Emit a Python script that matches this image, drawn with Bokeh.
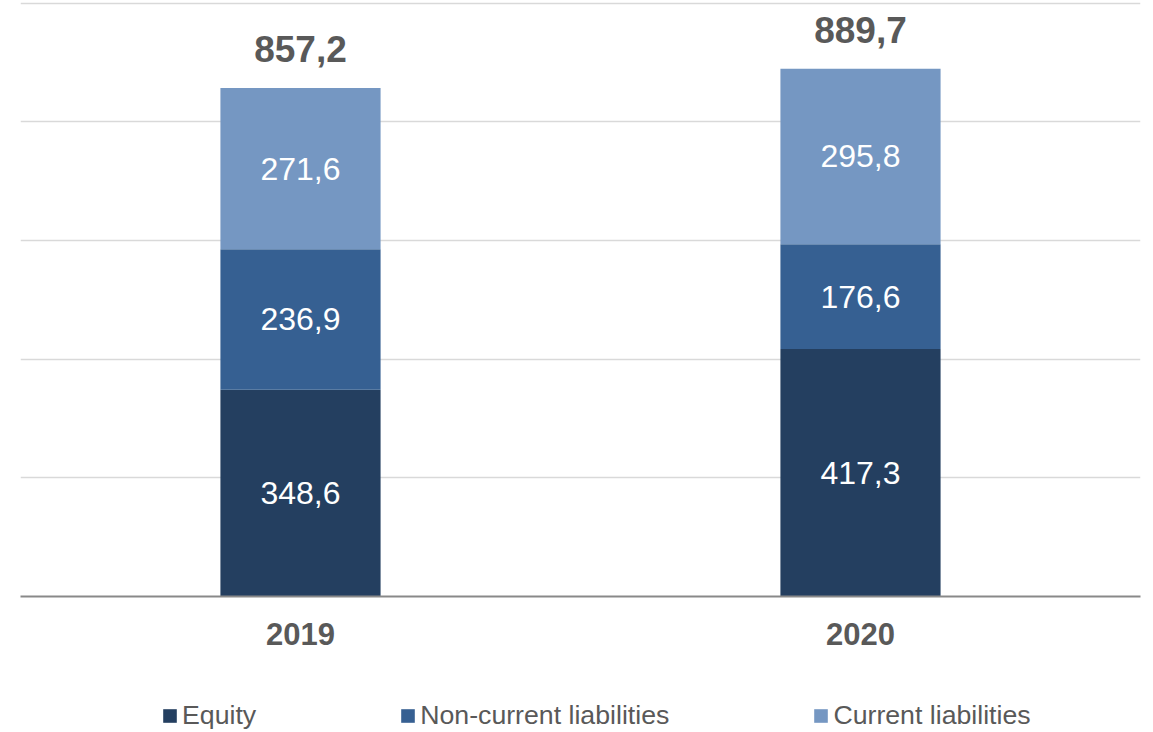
from bokeh.plotting import figure
from bokeh.models import ColumnDataSource, Legend, LegendItem, FactorRange, Range1d
from bokeh.layouts import column
from bokeh.core.properties import value
from bokeh.embed import file_html
from bokeh.resources import INLINE

years = ["2019", "2020"]
equity = [348.6, 417.3]
non_current = [236.9, 176.6]
current = [271.6, 295.8]
totals = [857.2, 889.7]
series_names = ["Equity", "Non-current liabilities", "Current liabilities"]
colors = ["#243F60", "#366092", "#7597C2"]

def fmt(v):
    return f"{v:.1f}".replace(".", ",")

p = figure(x_range=FactorRange(factors=years, range_padding=0), y_range=Range1d(0, 1003),
           width=1153, height=660, output_backend="svg", toolbar_location=None,
           min_border_left=20, min_border_right=13, min_border_top=1, min_border_bottom=64)
p.outline_line_color = None
p.background_fill_color = "white"

series = [equity, non_current, current]
bottoms = [0.0, 0.0]
for name, vals, col in zip(series_names, series, colors):
    tops = [b + v for b, v in zip(bottoms, vals)]
    mids = [(b + t) / 2 for b, t in zip(bottoms, tops)]
    src = ColumnDataSource(dict(x=years, bottom=bottoms, top=tops, mid=mids,
                                lab=[fmt(v) for v in vals]))
    p.vbar(x="x", bottom="bottom", top="top", width=0.286, source=src,
           fill_color=col, line_color=None)
    p.text(x="x", y="mid", text="lab", source=src, text_color="white",
           text_font=value("Liberation Sans"), text_font_size="32px",
           text_align="center", text_baseline="middle")
    bottoms = tops

tsrc = ColumnDataSource(dict(x=years, y=totals, lab=[fmt(v) for v in totals]))
p.text(x="x", y="y", text="lab", source=tsrc, text_color="#595959",
       text_font=value("Liberation Sans"), text_font_size="37px", text_font_style="bold",
       text_align="center", text_baseline="alphabetic", y_offset=-39)

p.yaxis.visible = False
p.ygrid.grid_line_color = "#D9D9D9"
p.ygrid.grid_line_width = 1.5
p.ygrid.ticker = [0, 200, 400, 600, 800, 1000]
p.xgrid.grid_line_color = None

xa = p.xaxis[0]
xa.axis_line_color = "#898989"
xa.axis_line_width = 2
xa.major_tick_line_color = None
xa.minor_tick_line_color = None
xa.major_tick_out = 0
xa.major_label_standoff = 26
xa.major_label_text_font = "Liberation Sans"
xa.major_label_text_font_size = "31px"
xa.major_label_text_font_style = "bold"
xa.major_label_text_color = "#595959"

# legend strip
lf = figure(width=1153, height=72, output_backend="svg", toolbar_location=None,
            x_range=Range1d(0, 1), y_range=Range1d(0, 1),
            min_border_left=0, min_border_right=0, min_border_top=0, min_border_bottom=0)
lf.axis.visible = False
lf.grid.visible = False
lf.outline_line_color = None
items = []
for name, col in zip(series_names, colors):
    r = lf.rect(x=[-5], y=[-5], width=0.1, height=0.1, fill_color=col, line_color=None)
    items.append(LegendItem(label=name, renderers=[r]))
legend = Legend(items=items, orientation="horizontal", location=(141, 1), spacing=143,
                glyph_width=17, glyph_height=17, label_standoff=4,
                label_text_font="Liberation Sans", label_text_font_size="26.7px",
                label_text_color="#595959", border_line_color=None,
                background_fill_alpha=0, padding=0, margin=0)
lf.add_layout(legend, "center")

open("out.html", "w").write(file_html(column(p, lf, spacing=0), INLINE))
